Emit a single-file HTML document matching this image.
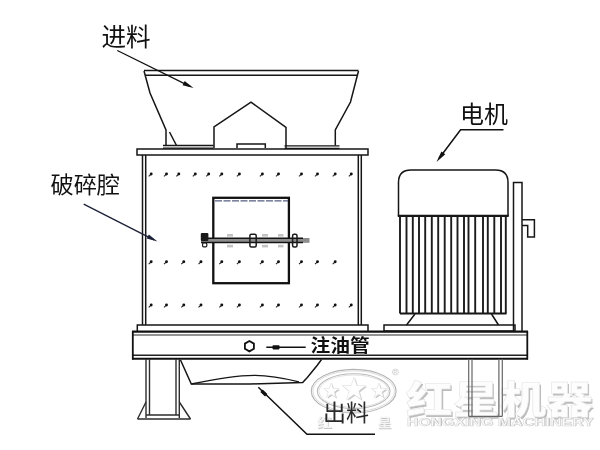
<!DOCTYPE html>
<html lang="zh">
<head>
<meta charset="utf-8">
<title>复合式破碎机结构图</title>
<style>
html,body{margin:0;padding:0;background:#fff;}
body{width:600px;height:450px;overflow:hidden;position:relative;font-family:"Liberation Sans","Noto Sans CJK SC",sans-serif;}
svg{position:absolute;left:0;top:0;display:block;filter:blur(0.35px);}
text{font-family:"Liberation Sans","Noto Sans CJK SC",sans-serif;}
.l{fill:none;stroke:#161616;stroke-width:1.5;stroke-linejoin:miter;}
.t{fill:none;stroke:#111;stroke-width:2.3;}
.g{fill:none;stroke:#2e2e2e;stroke-width:1.4;}
.lab{fill:#111;font-size:23px;}
</style>
</head>
<body>
<svg width="600" height="450" viewBox="0 0 600 450">
<defs>
  <g id="dot"><path d="M-2,1.8 L0.2,-0.2" stroke="#222" stroke-width="1.1" fill="none"/><circle cx="0.5" cy="-0.5" r="1.45" fill="#111"/></g>
</defs>
<rect width="600" height="450" fill="#fff"/>

<!-- watermark -->
<g id="wm">
  <ellipse cx="353.7" cy="391.2" rx="42.4" ry="21.8" fill="none" stroke="#b4b4b4" stroke-width="1.1"/>
  <ellipse cx="353.7" cy="391.2" rx="40.8" ry="20.4" fill="none" stroke="#dcdcdc" stroke-width="1"/>
  <ellipse cx="353.7" cy="391.2" rx="36.3" ry="17.4" fill="none" stroke="#b9b9b9" stroke-width="1.1"/>
  <ellipse cx="353.7" cy="391.2" rx="34.8" ry="16.2" fill="none" stroke="#e2e2e2" stroke-width="1"/>
  <polygon points="331.2,383.0 333.1,388.4 338.8,388.5 334.2,392.0 335.9,397.5 331.2,394.2 326.5,397.5 328.2,392.0 323.6,388.5 329.3,388.4" fill="#c9c9c9" stroke="none" transform="translate(1.2,1.2)"/>
  <polygon points="331.2,383.0 333.1,388.4 338.8,388.5 334.2,392.0 335.9,397.5 331.2,394.2 326.5,397.5 328.2,392.0 323.6,388.5 329.3,388.4" fill="#fff" stroke="#dedede" stroke-width="0.6"/>
  <polygon points="354.0,377.0 356.9,385.5 365.9,385.6 358.8,391.0 361.3,399.6 354.0,394.5 346.7,399.6 349.2,391.0 342.1,385.6 351.1,385.5" fill="#c9c9c9" stroke="none" transform="translate(1.2,1.2)"/>
  <polygon points="354.0,377.0 356.9,385.5 365.9,385.6 358.8,391.0 361.3,399.6 354.0,394.5 346.7,399.6 349.2,391.0 342.1,385.6 351.1,385.5" fill="#fff" stroke="#dedede" stroke-width="0.6"/>
  <polygon points="378.9,383.0 380.8,388.4 386.5,388.5 381.9,392.0 383.6,397.5 378.9,394.2 374.2,397.5 375.9,392.0 371.3,388.5 377.0,388.4" fill="#c9c9c9" stroke="none" transform="translate(1.2,1.2)"/>
  <polygon points="378.9,383.0 380.8,388.4 386.5,388.5 381.9,392.0 383.6,397.5 378.9,394.2 374.2,397.5 375.9,392.0 371.3,388.5 377.0,388.4" fill="#fff" stroke="#dedede" stroke-width="0.6"/>
  <circle cx="395.4" cy="372" r="3" fill="none" stroke="#cfcfcf" stroke-width="0.8"/>
  <text x="395.4" y="374" font-size="5" text-anchor="middle" fill="#c8c8c8">R</text>
  <g font-size="13" font-weight="bold">
    <text x="317.8" y="427.8" fill="#c6c6c6" textLength="15" lengthAdjust="spacingAndGlyphs">红</text>
    <text x="317" y="427" fill="#f4f4f4" textLength="15" lengthAdjust="spacingAndGlyphs">红</text>
    <text x="378.3" y="427.8" fill="#c6c6c6" textLength="14" lengthAdjust="spacingAndGlyphs">星</text>
    <text x="377.5" y="427" fill="#f4f4f4" textLength="14" lengthAdjust="spacingAndGlyphs">星</text>
  </g>
  <g font-size="38" font-weight="900">
    <text x="407.4" y="414.6" fill="#bdbdbd" textLength="187" lengthAdjust="spacingAndGlyphs">红星机器</text>
    <text x="406" y="413.2" fill="#fdfdfd" stroke="#e3e3e3" stroke-width="0.5" textLength="187" lengthAdjust="spacingAndGlyphs">红星机器</text>
  </g>
  <g font-size="10" font-weight="bold">
    <text x="407.5" y="426.3" fill="#b5b5b5" textLength="187" lengthAdjust="spacingAndGlyphs">HONGXING MACHINERY</text>
    <text x="406.7" y="425.5" fill="#fafafa" stroke="#d6d6d6" stroke-width="0.4" textLength="187" lengthAdjust="spacingAndGlyphs">HONGXING MACHINERY</text>
  </g>
</g>

<!-- hopper -->
<g class="l">
  <path d="M144,70.4 H358.5"/>
  <path d="M145,75.2 H357.5"/>
  <path d="M144,71 L150,93 L166,130 V145.5"/>
  <path d="M169.5,132 L176.5,145.5"/>
  <path d="M358.5,71 L350.5,102 L335.3,130 V145.5"/>
  <path d="M163,145.5 H213.5 M163,148.2 H213.5 M284.5,145.8 H339.5 M284.5,148.3 H339.5" style="stroke-width:1.3"/>
  <path d="M214,148 V127 L251,102.2 L286,127.4 V148"/>
  <path d="M237,148 V144 H265.3 V148"/>
</g>

<!-- body -->
<g class="l">
  <rect x="137" y="149" width="231" height="6" />
  <path d="M142.5,155 V325 M145.7,155 V325"/>
  <path d="M358.3,155 V325 M361.3,155 V325"/>
  <path d="M137.3,331 V325 H368 V331"/>
</g>

<!-- dots -->
<g>
  <use href="#dot" x="150.7" y="174.5"/><use href="#dot" x="166" y="174.5"/><use href="#dot" x="178.3" y="174.5"/><use href="#dot" x="194.8" y="174.5"/><use href="#dot" x="208.2" y="174.5"/><use href="#dot" x="221.3" y="174.5"/><use href="#dot" x="238.9" y="174.5"/><use href="#dot" x="261.9" y="174.5"/><use href="#dot" x="278" y="174.5"/><use href="#dot" x="301" y="174.5"/><use href="#dot" x="317" y="174.5"/><use href="#dot" x="334.7" y="174.5"/><use href="#dot" x="350.8" y="174.5"/>
  <use href="#dot" x="150.7" y="262.3"/><use href="#dot" x="166" y="262.3"/><use href="#dot" x="183.3" y="262.3"/><use href="#dot" x="200.5" y="262.3"/><use href="#dot" x="221.3" y="262.3"/><use href="#dot" x="238.9" y="262.3"/><use href="#dot" x="261.9" y="262.3"/><use href="#dot" x="278" y="262.3"/><use href="#dot" x="301" y="262.3"/><use href="#dot" x="317" y="262.3"/><use href="#dot" x="334.7" y="262.3"/>
  <use href="#dot" x="150.7" y="305.5"/><use href="#dot" x="166" y="305.5"/><use href="#dot" x="183.3" y="305.5"/><use href="#dot" x="200.5" y="305.5"/><use href="#dot" x="221.3" y="305.5"/><use href="#dot" x="238.9" y="305.5"/><use href="#dot" x="261.9" y="305.5"/><use href="#dot" x="278" y="305.5"/><use href="#dot" x="301" y="305.5"/><use href="#dot" x="317" y="305.5"/><use href="#dot" x="334.7" y="305.5"/><use href="#dot" x="350.8" y="305.5"/>
</g>

<!-- window + bar -->
<rect class="t" x="213.3" y="197.8" width="75.6" height="85.4"/>
<path d="M215,200.8 H288" stroke="#566080" stroke-width="1.3" stroke-dasharray="7 1.5" fill="none"/>
<g>
  <g fill="#c2c2c2">
    <rect x="227" y="234" width="6" height="2.6"/><rect x="227" y="244.8" width="6" height="2.6"/>
    <rect x="262" y="234" width="6" height="2.6"/><rect x="262" y="244.8" width="6" height="2.6"/>
    <rect x="278" y="234" width="5.5" height="2.6"/><rect x="278" y="244.8" width="5.5" height="2.6"/>
  </g>
  <rect x="201" y="238" width="108.5" height="4.8" fill="#8c8c8c" stroke="none"/>
  <path d="M201,238.3 H303 M201,242.5 H303" stroke="#141414" stroke-width="1.5" fill="none"/>
  <rect x="200.8" y="233" width="7.6" height="8" rx="1" fill="#1a1a1a"/>
  <rect x="202.6" y="243" width="4.2" height="3.8" rx="1" fill="none" stroke="#1a1a1a" stroke-width="1.2"/>
  <rect x="249.9" y="234.2" width="6.3" height="12.9" rx="1.5" fill="none" stroke="#1a1a1a" stroke-width="1.5"/>
  <rect x="292.6" y="234.2" width="4.4" height="12.9" rx="1.5" fill="none" stroke="#1a1a1a" stroke-width="1.5"/>
</g>

<!-- platform -->
<g fill="none" stroke="#111">
  <path d="M132,331.6 H528" stroke-width="2.3"/>
  <path d="M133,335 H527" stroke-width="1.2" stroke="#2a2a2a"/>
  <path d="M133,355.3 H527" stroke-width="1.5" stroke="#222"/>
  <path d="M132,358.7 H528" stroke-width="2.1"/>
  <path d="M132.8,331 V359.5 M527.3,331 V359.5" stroke-width="1.8"/>
</g>

<!-- oil port -->
<polygon points="249.4,351.4 244.9,348.8 244.9,343.6 249.4,341.0 253.9,343.6 253.9,348.8" fill="#fff" stroke="#111" stroke-width="1.8"/>
<path d="M266.3,347.3 H305.7" stroke="#111" stroke-width="1.6" fill="none"/>
<rect x="272.5" y="345.2" width="7" height="4.2" rx="0.8" fill="#111"/>

<!-- left leg -->
<g class="g">
  <path d="M146,359 V418 M149.5,359 V415 M176,359 V415 M179.3,359 V418"/>
  <path d="M137.5,419 H190.5 M146,415 H179.3"/>
  <path d="M137.5,419 L146,402 M179.3,402 L190.5,419"/>
</g>
<!-- right leg -->
<g class="g" style="stroke:#666;stroke-width:1.2">
  <path d="M468.7,359 V416.5 M472,359 V416.5 M498.9,359 V416.5 M502.3,359 V416.5 M468.7,416.3 H502.3"/>
</g>

<!-- discharge -->
<g class="l">
  <path d="M180.5,360 L191.3,384 H250 L302.7,382.4 L307.3,377.4 L317.3,365.2 L321.5,359.5"/>
  <path d="M191.3,384 C212,379.5 238,375.2 255,375.3 C270,375.4 286,378.6 299,381.8" style="stroke-width:1.3"/>
</g>

<!-- motor -->
<g class="l">
  <path d="M398.5,216 V182.5 Q398.5,170 411,170 H495.5 Q508,170 508,182.5 V216"/>
  <path d="M397.8,215.8 H508.7" style="stroke-width:2.3"/>
  <path d="M415,314 L406.5,325 M491.5,314 L498.5,325"/>
  <path d="M400,313.5 H506.5" style="stroke-width:1.8"/>
  <rect x="384" y="325" width="131" height="6"/>
  <path d="M513.5,331 V182.5 H522 V331"/>
  <path d="M522,219.7 H534.4 V237 H527.7 V225.4 H522"/>
</g>
<path stroke="#1c1c1c" stroke-width="1.9" fill="none" d="M400.0,216.5 V313.5 M406.5,216.5 V313.5 M412.8,216.5 V313.5 M419.0,216.5 V313.5 M425.2,216.5 V313.5 M431.8,216.5 V313.5 M438.2,216.5 V313.5 M444.7,216.5 V313.5 M451.2,216.5 V313.5 M457.5,216.5 V313.5 M464.0,216.5 V313.5 M468.5,216.5 V313.5 M475.2,216.5 V313.5 M483.0,216.5 V313.5 M487.8,216.5 V313.5 M494.3,216.5 V313.5 M501.0,216.5 V313.5 M505.8,216.5 V313.5"/>

<!-- labels -->
<text class="lab" x="101.5" y="45.5" style="font-size:24.6px">进料</text>
<text class="lab" x="50.5" y="193" style="font-size:23.2px">破碎腔</text>
<text class="lab" x="459.9" y="122.5" style="font-size:24px">电机</text>
<text class="lab" transform="translate(310.6,351.6) scale(1.04,0.95)" style="font-size:19px;font-weight:700">注油管</text>
<text class="lab" x="322.9" y="421" style="font-size:23px;fill:#2a2a2a">出料</text>

<!-- leaders -->
<g stroke="#111" stroke-width="1.3" fill="none">
  <path d="M117.3,50.5 L190,86.3"/>
  <path d="M83.7,204.2 L154,239.8" stroke="#1b2036"/>
  <path d="M503.5,129.7 H460.6 L439,158.5" style="stroke-width:1.5"/>
  <path d="M375,434.3 H307 L258.3,387.3" style="stroke-width:1.5"/>
  <path d="M261.5,390.8 L266.2,395.3" style="stroke-width:3.4"/>
</g>
<g fill="#111">
  <polygon points="193.5,88 182.6,85.2 184.7,81"/>
  <polygon points="157.5,241.5 146.7,238.6 148.8,234.4" fill="#1b2036"/>
  <polygon points="436.5,162 441.4,151.4 445.3,154.3"/>
</g>
</svg>
</body>
</html>
